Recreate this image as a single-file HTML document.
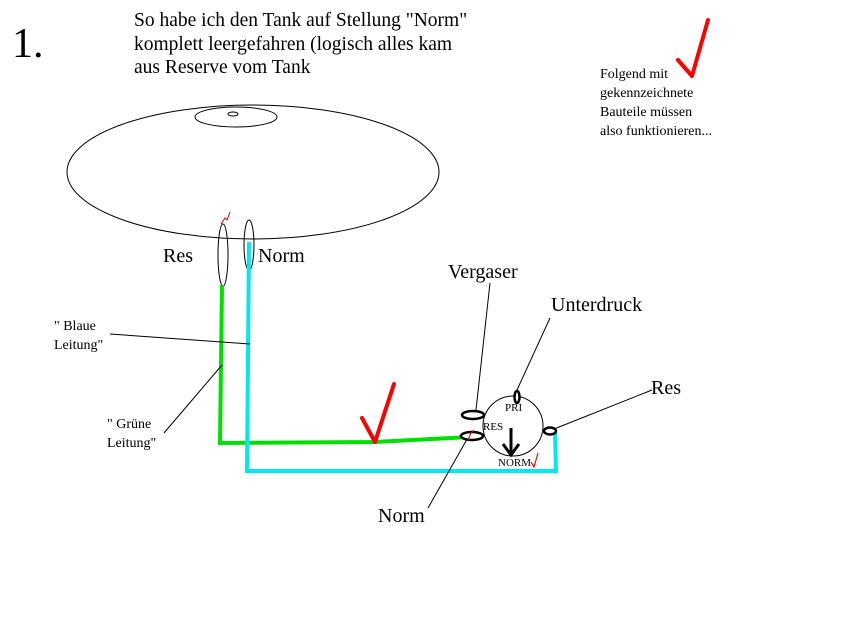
<!DOCTYPE html>
<html><head><meta charset="utf-8"><style>
html,body{margin:0;padding:0;background:#fff;}
svg{display:block;}
text{font-family:"Liberation Serif",serif;fill:#000;}
</style></head><body>
<svg width="844" height="638" viewBox="0 0 844 638" xmlns="http://www.w3.org/2000/svg">
<rect width="844" height="638" fill="#fff"/>
<text x="12" y="57" font-size="42">1.</text>
<text x="134" y="26" font-size="19.5">So habe ich den Tank auf Stellung "Norm"</text>
<text x="134" y="50" font-size="19.5">komplett leergefahren (logisch alles kam</text>
<text x="134" y="73" font-size="19.5">aus Reserve vom Tank</text>

<text x="600" y="78" font-size="14">Folgend mit</text>
<text x="600" y="97" font-size="14">gekennzeichnete</text>
<text x="600" y="116" font-size="14">Bauteile müssen</text>
<text x="600" y="135" font-size="14">also funktionieren...</text>
<path d="M678 60 L692 76 L708 20" stroke="#f00" stroke-width="4" fill="none" stroke-linecap="round" stroke-linejoin="round"/>

<g fill="none" stroke="#000" stroke-width="1">
<ellipse cx="253" cy="172" rx="186" ry="67"/>
<ellipse cx="236" cy="117" rx="41" ry="10"/>
<ellipse cx="233" cy="114" rx="5" ry="2"/>
<ellipse cx="223" cy="255" rx="5" ry="31"/>
<ellipse cx="249" cy="245" rx="5" ry="25"/>
</g>
<path d="M221 224 L225 218 L227 220 L230 212" stroke="#c00" stroke-width="1" fill="none"/>

<text x="163" y="262" font-size="20">Res</text>
<text x="258" y="262" font-size="20">Norm</text>

<polyline points="222,285 220,443 375,442 470,437" stroke="#00e000" stroke-width="4" fill="none"/>
<polyline points="249,242 247,471 556,471 555,431" stroke="#00e8f0" stroke-width="4" fill="none"/>

<path d="M362 418 L375 442 L394 384" stroke="#f00" stroke-width="4" fill="none" stroke-linecap="round" stroke-linejoin="round"/>

<g stroke="#000" stroke-width="1" fill="none">
<line x1="110" y1="334" x2="250" y2="344"/>
<line x1="164" y1="433" x2="222" y2="365"/>
<line x1="490" y1="283" x2="476" y2="410"/>
<line x1="550" y1="318" x2="517" y2="390"/>
<line x1="652" y1="390" x2="554" y2="429"/>
<line x1="428" y1="508" x2="470" y2="434"/>
<circle cx="513" cy="426" r="30"/>
</g>
<g stroke="#000" stroke-width="2.5" fill="#fff">
<ellipse cx="473" cy="415" rx="11" ry="4"/>
<ellipse cx="472" cy="436" rx="11" ry="4"/>
<ellipse cx="550" cy="431" rx="6" ry="3.5"/>
<ellipse cx="517" cy="397" rx="2.5" ry="6"/>
</g>
<path d="M468 440 L471 433 L474 430" stroke="#c00" stroke-width="1" fill="none"/>
<line x1="511" y1="428" x2="511" y2="453" stroke="#000" stroke-width="3"/>
<path d="M503 444 L511 455 L519 444" stroke="#000" stroke-width="3" fill="none"/>
<text x="505" y="411" font-size="11">PRI</text>
<text x="483" y="430" font-size="11">RES</text>
<text x="498" y="466" font-size="11">NORM</text>
<path d="M531 462 L534 467 L538 453" stroke="#f00" stroke-width="1.2" fill="none"/>

<text x="54" y="330" font-size="14">" Blaue</text>
<text x="54" y="349" font-size="14">Leitung"</text>
<text x="107" y="428" font-size="14">" Grüne</text>
<text x="107" y="447" font-size="14">Leitung"</text>

<text x="448" y="278" font-size="20">Vergaser</text>
<text x="551" y="311" font-size="20">Unterdruck</text>
<text x="651" y="394" font-size="20">Res</text>
<text x="378" y="522" font-size="20">Norm</text>
</svg>
</body></html>
